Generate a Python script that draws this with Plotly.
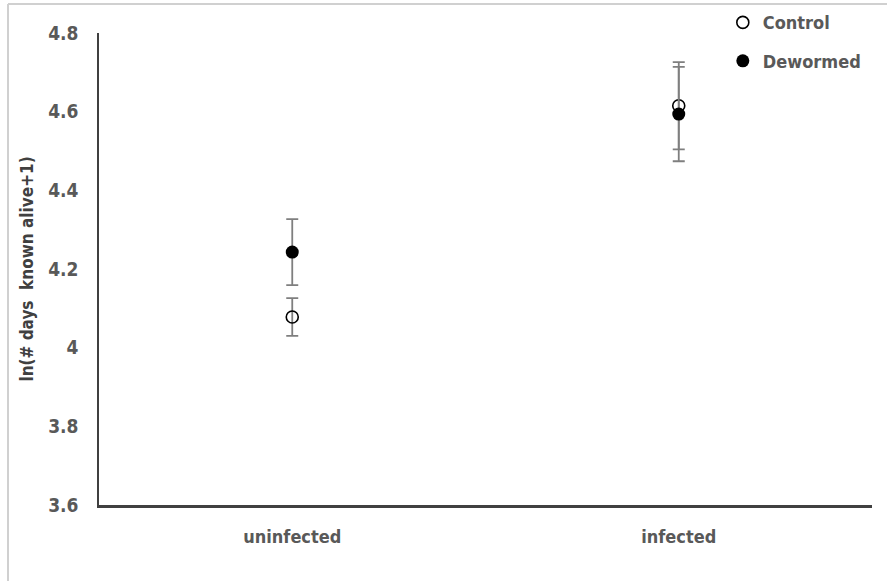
import plotly.graph_objects as go

categories = ["uninfected", "infected"]
control_mean = [4.078, 4.615]
control_err = [0.048, 0.111]
dewormed_mean = [4.243, 4.594]
dewormed_err = [0.084, 0.120]
y_ticks = [3.6, 3.8, 4.0, 4.2, 4.4, 4.6, 4.8]
y_ticktext = ["3.6", "3.8", "4", "4.2", "4.4", "4.6", "4.8"]

FONT = "Liberation Sans Narrow, DejaVu Sans Condensed, Arial Narrow, sans-serif"
TXT = "#595959"
ERR = "#7f7f7f"

fig = go.Figure()
fig.add_trace(go.Scatter(
    x=categories, y=control_mean, mode="markers", name="Control",
    legendgroup="c",
    marker=dict(symbol="circle-open", size=12, color="black", line=dict(width=1.6, color="black")),
    error_y=dict(type="data", array=control_err, visible=True, color=ERR, thickness=1.8, width=6),
))
fig.add_trace(go.Scatter(
    x=categories, y=dewormed_mean, mode="markers", name="Dewormed",
    legendgroup="d",
    marker=dict(symbol="circle", size=13, color="black"),
    error_y=dict(type="data", array=dewormed_err, visible=True, color=ERR, thickness=1.8, width=6),
))

fig.update_layout(
    width=887, height=581,
    margin=dict(l=99, r=15, t=33, b=76, autoexpand=False),
    paper_bgcolor="white", plot_bgcolor="white",
    font=dict(family=FONT, color=TXT, size=16),
    showlegend=True,
    legend=dict(
        x=0.807, y=1.061, xanchor="left", yanchor="top",
        font=dict(family=FONT, size=18, color=TXT, weight="bold"),
        bgcolor="rgba(0,0,0,0)", tracegroupgap=12, itemwidth=30,
    ),
    xaxis=dict(
        type="category", range=[-0.5, 1.5],
        showline=True, linecolor="#404040", linewidth=2.5,
        showgrid=False, zeroline=False, ticks="",
        tickfont=dict(family=FONT, size=18, color=TXT, weight="bold"),
        ticklabelstandoff=14,
    ),
    yaxis=dict(
        range=[3.6, 4.8], tickvals=y_ticks, ticktext=y_ticktext,
        showline=True, linecolor="#404040", linewidth=1.5,
        showgrid=False, zeroline=False, ticks="",
        tickfont=dict(family=FONT, size=19, color=TXT, weight="bold"),
        ticklabelstandoff=15,
        title=dict(text="ln(# days  known alive+1)",
                   font=dict(family=FONT, size=17, color="#404040", weight="bold"),
                   standoff=10),
    ),
)

# light frame of the original figure border
fig.add_shape(type="line", xref="paper", yref="paper",
              x0=-91/773, x1=1.03, y0=1 + 29/472, y1=1 + 29/472,
              line=dict(color="#d0d0d0", width=2))
fig.add_shape(type="line", xref="paper", yref="paper",
              x0=-91/773, x1=-91/773, y0=1 + 29/472, y1=-76/472,
              line=dict(color="#d0d0d0", width=2))

fig.write_html("out.html", config={"displayModeBar": False},
               post_script="document.body.style.margin='0';document.body.style.overflow='hidden';")
